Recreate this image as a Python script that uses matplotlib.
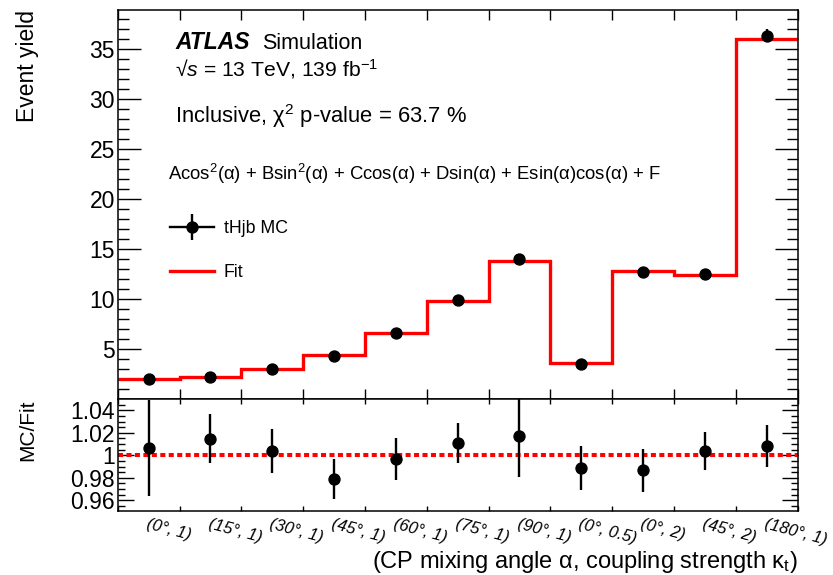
import numpy as np
import matplotlib
matplotlib.use("Agg")
import matplotlib.pyplot as plt
from matplotlib.lines import Line2D
from matplotlib.ticker import MultipleLocator

plt.rcParams['font.family'] = ['Liberation Sans', 'DejaVu Sans']
plt.rcParams['mathtext.fontset'] = 'custom'
plt.rcParams['mathtext.rm'] = 'Liberation Sans'
plt.rcParams['mathtext.it'] = 'Liberation Sans:italic'
plt.rcParams['mathtext.bf'] = 'Liberation Sans:bold'

# (alpha, kappa_t) points of the tHjb samples
bin_labels = ["(0°, 1)", "(15°, 1)", "(30°, 1)", "(45°, 1)", "(60°, 1)", "(75°, 1)",
              "(90°, 1)", "(0°, 0.5)", "(0°, 2)", "(45°, 2)", "(180°, 1)"]
fit_yield = [2.03, 2.23, 3.00, 4.43, 6.66, 9.86, 13.83, 3.60, 12.86, 12.46, 36.03]
mc_yield = [2.043, 2.263, 3.011, 4.337, 6.640, 9.968, 14.065, 3.560, 12.689, 12.504, 36.336]
mc_err = [0.087, 0.048, 0.059, 0.080, 0.123, 0.177, 0.498, 0.071, 0.248, 0.211, 0.674]

fit_yield = np.array(fit_yield)
mc_yield = np.array(mc_yield)
mc_err = np.array(mc_err)
ratio = mc_yield / fit_yield
ratio_err = mc_err / fit_yield

edges = np.arange(len(bin_labels) + 1)
centers = edges[:-1] + 0.5

fig = plt.figure(figsize=(8.33, 5.75), dpi=100)
ax = fig.add_axes([0.1413, 0.3056, 0.8161, 0.677])
axr = fig.add_axes([0.1413, 0.1118, 0.8161, 0.1938])

# upper pad: yields and fitted function
ax.stairs(fit_yield, edges, baseline=None, color='red', lw=2.4, zorder=2)
ax.errorbar(centers, mc_yield, yerr=mc_err, fmt='o', color='black', ms=7.9,
            elinewidth=1.7, capsize=0, zorder=3)
ax.set_xlim(edges[0], edges[-1])
ax.set_ylim(0.0, 38.9)
ax.set_xticks(edges)
ax.set_xticklabels([])
ax.set_yticks([5, 10, 15, 20, 25, 30, 35])
ax.yaxis.set_minor_locator(MultipleLocator(1))
ax.tick_params(axis='y', which='major', direction='in', length=16.5, width=1.0,
               left=True, right=True, labelsize=16.5, pad=2)
ax.tick_params(axis='y', which='minor', direction='in', length=7.8, width=1.0,
               left=True, right=True)
ax.tick_params(axis='x', which='major', direction='in', length=7.2, width=1.0,
               top=True, bottom=True)
for s in ax.spines.values():
    s.set_linewidth(1.1)

ax.text(-0.1327, 1.0, 'Event yield', transform=ax.transAxes, rotation=90,
        ha='center', va='top', fontsize=16.5)

ax.text(0.0843, 0.899, 'ATLAS', transform=ax.transAxes, fontsize=16.5,
        fontweight='bold', fontstyle='italic', va='baseline')
ax.text(0.2118, 0.899, 'Simulation', transform=ax.transAxes, fontsize=15.5,
        va='baseline')
ax.text(0.0843, 0.8287, r'√$s$ = 13 TeV, 139 fb$^{\mathregular{-1}}$',
        transform=ax.transAxes, fontsize=15.2, va='baseline')
ax.text(0.0843, 0.7105, r'Inclusive, $\mathregular{\chi}^{\mathregular{2}}$ p-value = 63.7 %',
        transform=ax.transAxes, fontsize=15.8, va='baseline')
ax.text(0.074, 0.5634,
        r'Acos$^{\mathregular{2}}$($\mathregular{\alpha}$) + Bsin$^{\mathregular{2}}$($\mathregular{\alpha}$)'
        r' + Ccos($\mathregular{\alpha}$) + Dsin($\mathregular{\alpha}$)'
        r' + Esin($\mathregular{\alpha}$)cos($\mathregular{\alpha}$) + F',
        transform=ax.transAxes, fontsize=13.3, va='baseline')

mc_handle = (Line2D([], [], color='black', lw=1.7, marker='o', ms=7.9),
             Line2D([], [], color='black', ls='none', marker='|', ms=18.7, mew=1.7))
fit_handle = Line2D([], [], color='red', lw=2.4)
ax.legend([mc_handle, fit_handle], ['tHjb MC', 'Fit'], loc='upper left',
          bbox_to_anchor=(0.0769, 0.460), frameon=False, fontsize=12.8,
          handlelength=2.47, handletextpad=0.56, labelspacing=1.5,
          borderpad=0, borderaxespad=0)

# lower pad: MC / fit
axr.axhline(1.0, color='red', lw=2.9, ls=(0, (1.25, 0.85)), zorder=2)
axr.errorbar(centers, ratio, yerr=ratio_err, fmt='o', color='black', ms=7.9,
             elinewidth=1.7, capsize=0, zorder=3)
axr.set_xlim(edges[0], edges[-1])
axr.set_ylim(0.9508, 1.0498)
axr.set_yticks([0.96, 0.98, 1.0, 1.02, 1.04])
axr.set_yticklabels(['0.96', '0.98', '1', '1.02', '1.04'])
axr.yaxis.set_minor_locator(MultipleLocator(0.005))
axr.set_xticks(edges)
axr.set_xticklabels([])
axr.set_xticks(centers, minor=True)
axr.set_xticklabels(bin_labels, minor=True, rotation=-15, ha='left', va='top',
                    rotation_mode='anchor', fontstyle='italic', fontsize=12)
axr.tick_params(axis='x', which='minor', length=0, pad=4)
axr.tick_params(axis='x', which='major', direction='in', length=3.3, width=1.0,
                top=True, bottom=True)
axr.tick_params(axis='y', which='major', direction='in', length=11.3, width=1.0,
                left=True, right=True, labelsize=16.5, pad=2)
axr.tick_params(axis='y', which='minor', direction='in', length=5.0, width=1.0,
                left=True, right=True)
for s in axr.spines.values():
    s.set_linewidth(1.1)

axr.text(-0.1327, 1.0, 'MC/Fit', transform=axr.transAxes, rotation=90,
         ha='center', va='top', fontsize=15)
axr.text(1.0, -0.46,
         r'(CP mixing angle $\mathregular{\alpha}$, coupling strength $\mathregular{\kappa}_{\mathregular{t}}$)',
         transform=axr.transAxes, ha='right', va='center', fontsize=17)

fig.savefig('out.png', dpi=100)
